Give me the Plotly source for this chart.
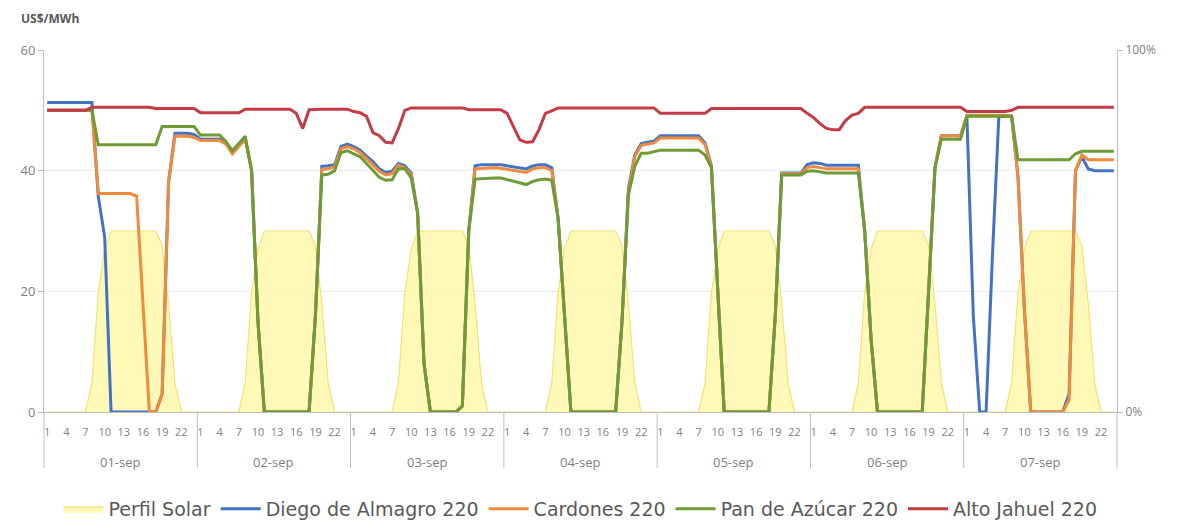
import plotly.graph_objects as go

days = ["01-sep", "02-sep", "03-sep", "04-sep", "05-sep", "06-sep", "07-sep"]
hours = list(range(1, 25))
hour_ticks = [1, 4, 7, 10, 13, 16, 19, 22]

# Perfil Solar (%), one row per day
solar = [
    0, 0, 0, 0, 0, 0, 0, 8, 33, 45, 50, 50, 50, 50, 50, 50, 50, 50, 46, 30, 8, 0, 0, 0,
    0, 0, 0, 0, 0, 0, 0, 8, 33, 45, 50, 50, 50, 50, 50, 50, 50, 50, 46, 30, 8, 0, 0, 0,
    0, 0, 0, 0, 0, 0, 0, 8, 33, 45, 50, 50, 50, 50, 50, 50, 50, 50, 46, 30, 8, 0, 0, 0,
    0, 0, 0, 0, 0, 0, 0, 8, 33, 45, 50, 50, 50, 50, 50, 50, 50, 50, 46, 30, 8, 0, 0, 0,
    0, 0, 0, 0, 0, 0, 0, 8, 33, 45, 50, 50, 50, 50, 50, 50, 50, 50, 46, 30, 8, 0, 0, 0,
    0, 0, 0, 0, 0, 0, 0, 8, 33, 45, 50, 50, 50, 50, 50, 50, 50, 50, 46, 30, 8, 0, 0, 0,
    0, 0, 0, 0, 0, 0, 0, 8, 33, 45, 50, 50, 50, 50, 50, 50, 50, 50, 46, 30, 8, 0, 0, 0,
]

# US$/MWh
diego = [
    51.3, 51.3, 51.3, 51.3, 51.3, 51.3, 51.3, 51.3, 35.7, 29.0, 0, 0, 0, 0, 0, 0, 0, 0, 3, 38, 46.2, 46.2, 46.2, 46.0,
    45.2, 45.2, 45.2, 45.2, 44.6, 43.1, 44.2, 45.4, 40.2, 15, 0, 0, 0, 0, 0, 0, 0, 0, 16, 40.7, 40.8, 41.0, 44.0, 44.4,
    44.0, 43.4, 42.4, 41.5, 40.3, 39.7, 39.9, 41.2, 40.8, 39.6, 33, 8, 0, 0, 0, 0, 0, 1, 30, 40.8, 41.0, 41.0, 41.0, 41.0,
    40.8, 40.6, 40.4, 40.3, 40.8, 41.0, 41.0, 40.5, 32, 16, 0, 0, 0, 0, 0, 0, 0, 0, 15, 37, 42.6, 44.5, 44.7, 44.9,
    45.8, 45.8, 45.8, 45.8, 45.8, 45.8, 45.8, 44.6, 40.8, 20, 0, 0, 0, 0, 0, 0, 0, 0, 16, 39.6, 39.6, 39.6, 39.6, 41.0,
    41.3, 41.2, 40.9, 40.9, 40.9, 40.9, 40.9, 40.9, 30, 12, 0, 0, 0, 0, 0, 0, 0, 0, 20, 40.5, 45.8, 45.8, 45.8, 45.8,
    49.0, 16, 0, 0, 26, 49.0, 49.0, 49.0, 39, 17, 0, 0, 0, 0, 0, 0, 3, 40, 42.3, 40.3, 40.0, 40.0, 40.0, 40.0,
]
cardones = [
    50.0, 50.0, 50.0, 50.0, 50.0, 50.0, 50.0, 50.0, 36.2, 36.2, 36.2, 36.2, 36.2, 36.2, 35.8, 17, 0, 0, 3, 38, 45.7, 45.7, 45.7, 45.5,
    45.0, 45.0, 45.0, 45.0, 44.4, 42.8, 44.0, 45.2, 40.0, 15, 0, 0, 0, 0, 0, 0, 0, 0, 16, 40.2, 40.3, 40.6, 43.6, 44.0,
    43.6, 43.0, 42.0, 41.0, 39.9, 39.3, 39.5, 40.9, 40.5, 39.3, 33, 8, 0, 0, 0, 0, 0, 1, 30, 40.3, 40.4, 40.5, 40.5, 40.4,
    40.2, 40.0, 39.8, 39.7, 40.3, 40.5, 40.5, 40.0, 32, 16, 0, 0, 0, 0, 0, 0, 0, 0, 15, 36.5, 42.3, 44.2, 44.4, 44.6,
    45.4, 45.4, 45.4, 45.4, 45.4, 45.4, 45.4, 44.3, 40.6, 20, 0, 0, 0, 0, 0, 0, 0, 0, 16, 39.5, 39.5, 39.5, 39.5, 40.5,
    40.7, 40.5, 40.3, 40.3, 40.3, 40.3, 40.3, 40.3, 30, 12, 0, 0, 0, 0, 0, 0, 0, 0, 20, 40.5, 45.8, 45.8, 45.8, 45.8,
    49.2, 49.2, 49.2, 49.2, 49.2, 49.2, 49.2, 49.0, 39, 17, 0, 0, 0, 0, 0, 0, 2, 40, 42.6, 41.8, 41.8, 41.8, 41.8, 41.8,
]
pan_azucar = [
    50.0, 50.0, 50.0, 50.0, 50.0, 50.0, 50.0, 50.0, 44.3, 44.3, 44.3, 44.3, 44.3, 44.3, 44.3, 44.3, 44.3, 44.3, 47.3, 47.3, 47.3, 47.3, 47.3, 47.3,
    45.9, 45.9, 45.9, 45.9, 44.8, 43.3, 44.5, 45.7, 40.0, 15, 0, 0, 0, 0, 0, 0, 0, 0, 16, 39.3, 39.4, 40.0, 43.0, 43.3,
    42.8, 42.3, 41.2, 40.0, 38.9, 38.4, 38.5, 40.3, 40.3, 38.8, 33, 8, 0, 0, 0, 0, 0, 1, 30, 38.6, 38.7, 38.8, 38.8, 38.8,
    38.5, 38.2, 38.0, 37.7, 38.2, 38.5, 38.6, 38.4, 32, 16, 0, 0, 0, 0, 0, 0, 0, 0, 15, 36, 40.7, 42.9, 42.9, 43.1,
    43.4, 43.4, 43.4, 43.4, 43.4, 43.4, 43.4, 42.6, 40.5, 20, 0, 0, 0, 0, 0, 0, 0, 0, 16, 39.3, 39.3, 39.3, 39.3, 39.9,
    40.0, 39.8, 39.6, 39.6, 39.6, 39.6, 39.6, 39.6, 30, 12, 0, 0, 0, 0, 0, 0, 0, 0, 20, 40.5, 45.2, 45.2, 45.2, 45.2,
    49.0, 49.0, 49.0, 49.0, 49.0, 49.0, 49.0, 49.0, 41.8, 41.8, 41.8, 41.8, 41.8, 41.8, 41.8, 41.8, 41.8, 42.8, 43.2, 43.2, 43.2, 43.2, 43.2, 43.2,
]
alto_jahuel = [
    50.0, 50.0, 50.0, 50.0, 50.0, 50.0, 50.0, 50.5, 50.5, 50.5, 50.5, 50.5, 50.5, 50.5, 50.5, 50.5, 50.5, 50.3, 50.3, 50.3, 50.3, 50.3, 50.3, 50.3,
    49.6, 49.6, 49.6, 49.6, 49.6, 49.6, 49.6, 50.2, 50.2, 50.2, 50.2, 50.2, 50.2, 50.2, 50.2, 49.5, 47.0, 50.1, 50.2, 50.2, 50.2, 50.2, 50.2, 50.2,
    49.8, 49.6, 49.0, 46.3, 45.8, 44.7, 44.6, 47.0, 50.0, 50.4, 50.4, 50.4, 50.4, 50.4, 50.4, 50.4, 50.4, 50.4, 50.1, 50.1, 50.1, 50.1, 50.1, 50.1,
    49.5, 47.3, 45.1, 44.7, 44.8, 46.8, 49.5, 49.9, 50.4, 50.4, 50.4, 50.4, 50.4, 50.4, 50.4, 50.4, 50.4, 50.4, 50.4, 50.4, 50.4, 50.4, 50.4, 50.4,
    49.5, 49.5, 49.5, 49.5, 49.5, 49.5, 49.5, 49.5, 50.3, 50.3, 50.3, 50.3, 50.3, 50.3, 50.3, 50.3, 50.3, 50.3, 50.3, 50.3, 50.3, 50.3, 50.3, 49.5,
    48.8, 47.8, 47.0, 46.8, 46.8, 48.3, 49.2, 49.5, 50.5, 50.5, 50.5, 50.5, 50.5, 50.5, 50.5, 50.5, 50.5, 50.5, 50.5, 50.5, 50.5, 50.5, 50.5, 50.5,
    49.8, 49.8, 49.8, 49.8, 49.8, 49.8, 49.8, 50.0, 50.5, 50.5, 50.5, 50.5, 50.5, 50.5, 50.5, 50.5, 50.5, 50.5, 50.5, 50.5, 50.5, 50.5, 50.5, 50.5,
]

FONT = "Open Sans"
LEG_FONT = "DejaVu Sans"
GREY = "#7F7F7F"
AXIS = "#BFBFBF"

n_h = len(hours)
x = [d * n_h + (h - 1) for d in range(len(days)) for h in hours]
x_min, x_max = -0.5, len(days) * n_h - 0.5

fig = go.Figure()
fig.add_trace(go.Scatter(
    x=x, y=solar, name="Perfil Solar", yaxis="y", mode="lines",
    fill="tozeroy", fillcolor="rgba(255,248,170,0.85)",
    line=dict(color="#F2E27A", width=1.2), hoverinfo="skip"))

series = [
    ("Diego de Almagro 220", diego, "#4472C4"),
    ("Cardones 220", cardones, "#F08A3C"),
    ("Pan de Azúcar 220", pan_azucar, "#6E9B35"),
    ("Alto Jahuel 220", alto_jahuel, "#C33B45"),
]
for name, vals, col in series:
    fig.add_trace(go.Scatter(x=x, y=vals, name=name, yaxis="y2", mode="lines",
                             line=dict(color=col, width=3)))

tickvals = [d * n_h + (h - 1) for d in range(len(days)) for h in hour_ticks]
ticktext = [str(h) for d in range(len(days)) for h in hour_ticks]

shapes = []
for d in range(len(days) + 1):
    px = (d * n_h - 0.5 - x_min) / (x_max - x_min)
    shapes.append(dict(type="line", xref="paper", yref="paper", x0=px, x1=px,
                       y0=0, y1=-0.155, line=dict(color=AXIS, width=1)))

annotations = [dict(x=d * n_h + (n_h - 1) / 2, xref="x", y=-0.138, yref="paper",
                    text=day, showarrow=False, yanchor="middle",
                    font=dict(family=FONT, size=13, color=GREY))
               for d, day in enumerate(days)]
annotations.append(dict(x=-0.023, xref="paper", y=1.088, yref="paper", text="<b>US$/MWh</b>",
                        showarrow=False, xanchor="left", yanchor="middle",
                        font=dict(family=FONT, size=12, color="#595959")))

# page body has an 8px default margin, so the figure is sized to fit the window
fig.update_layout(
    width=1174, height=514,
    margin=dict(l=36, r=65, t=42, b=110, autoexpand=False),
    paper_bgcolor="white", plot_bgcolor="white",
    font=dict(family=FONT, color=GREY),
    showlegend=True,
    legend=dict(orientation="h", x=0.5, xanchor="center", y=-0.268, yanchor="middle",
                font=dict(family=LEG_FONT, size=19, color="#595959"), itemwidth=40,
                traceorder="normal"),
    xaxis=dict(range=[x_min, x_max], tickvals=tickvals, ticktext=ticktext,
               ticks="", showline=True, linecolor=AXIS, linewidth=1,
               showgrid=False, zeroline=False, tickangle=0, ticklabelstandoff=10,
               tickfont=dict(family=FONT, size=11, color=GREY)),
    yaxis=dict(side="right", range=[0, 100], tickvals=[0, 100], ticktext=["0%", "100%"],
               showgrid=False, zeroline=False, showline=True, linecolor=AXIS,
               ticks="outside", ticklen=5, tickcolor=AXIS,
               tickfont=dict(family=FONT, size=12, color=GREY)),
    yaxis2=dict(overlaying="y", side="left", range=[0, 60], dtick=20,
                showgrid=True, gridcolor="#EBEBEB", zeroline=False,
                showline=True, linecolor=AXIS, ticks="outside", ticklen=5, tickcolor=AXIS,
                tickfont=dict(family=FONT, size=13, color=GREY)),
    shapes=shapes, annotations=annotations,
)

fig.write_html("out.html")
